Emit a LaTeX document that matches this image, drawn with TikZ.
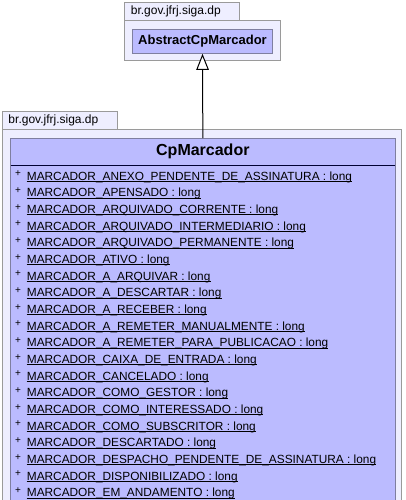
\documentclass[tikz,border=0pt]{standalone}
\usepackage{fontspec}
\setmainfont{Liberation Sans}
\usetikzlibrary{arrows.meta}
\definecolor{pkgfill}{HTML}{EEEEFF}
\definecolor{pkgline}{HTML}{9A9A9A}
\definecolor{clsfill}{HTML}{BBBBFF}
\definecolor{clsline}{HTML}{7F7FA0}
\definecolor{sepline}{HTML}{000033}
\begin{document}
\begin{tikzpicture}[x=1pt, y=-1pt,
  pkg/.style={draw=pkgline, fill=pkgfill, line width=1pt},
  pkglabel/.style={anchor=west, inner sep=0pt, font=\fontsize{12}{14}\selectfont},
  classbox/.style={draw=clsline, fill=clsfill, line width=1pt, inner sep=0pt},
  attr/.style={anchor=base west, inner sep=0pt, font=\fontsize{11.85}{14}\selectfont},
  plus/.style={inner sep=0pt, font=\fontsize{10}{11}\selectfont}]
  \useasboundingbox (0,0) rectangle (405,500);
  \clip (0,0) rectangle (405,500);
  % package of the superclass
  \filldraw[pkg] (124.3,2.3) rectangle (239.3,20.7);
  \filldraw[pkg] (124.3,20.7) rectangle (280.3,61);
  \node[pkglabel] (toplabel) at (130.7,11.5) {br.gov.jfrj.siga.dp};
  \node[classbox, minimum width=140.4pt, minimum height=24pt, font=\bfseries\fontsize{13}{15}\selectfont] (abs) at (202.5,41.3) {AbstractCpMarcador};
  % package of the class
  \filldraw[pkg] (2.3,111.7) rectangle (117.7,129.3);
  \filldraw[pkg] (2.3,129.3) rectangle (401.5,520);
  \node[pkglabel] (botlabel) at (8.3,120.5) {br.gov.jfrj.siga.dp};
  \filldraw[classbox] (10.7,138.3) rectangle (395,520);
  \node[inner sep=0pt, minimum width=384.3pt, minimum height=26.7pt, font=\bfseries\fontsize{16}{18}\selectfont] (cp) at (202.85,151.65) {CpMarcador};
  \draw[sepline, line width=1pt] (cp.south west) -- (cp.south east);
  \foreach \name [count=\i] in {MARCADOR\_ANEXO\_PENDENTE\_DE\_ASSINATURA, MARCADOR\_APENSADO,
      MARCADOR\_ARQUIVADO\_CORRENTE, MARCADOR\_ARQUIVADO\_INTERMEDIARIO, MARCADOR\_ARQUIVADO\_PERMANENTE,
      MARCADOR\_ATIVO, MARCADOR\_A\_ARQUIVAR, MARCADOR\_A\_DESCARTAR, MARCADOR\_A\_RECEBER,
      MARCADOR\_A\_REMETER\_MANUALMENTE, MARCADOR\_A\_REMETER\_PARA\_PUBLICACAO, MARCADOR\_CAIXA\_DE\_ENTRADA,
      MARCADOR\_CANCELADO, MARCADOR\_COMO\_GESTOR, MARCADOR\_COMO\_INTERESSADO, MARCADOR\_COMO\_SUBSCRITOR,
      MARCADOR\_DESCARTADO, MARCADOR\_DESPACHO\_PENDENTE\_DE\_ASSINATURA, MARCADOR\_DISPONIBILIZADO,
      MARCADOR\_EM\_ANDAMENTO} {
    \node[plus] (plus\i) at (18, {174+16.67*(\i-1)}) {+};
    \node[attr] (a\i) at (26.7, {180+16.67*(\i-1)}) {\name\ : long};
    \draw[line width=1pt] ([yshift=-1.6pt]a\i.base west) -- ([yshift=-1.6pt]a\i.base east);
  }
  \draw[line width=1pt, -{Triangle[fill=white, length=16pt, width=12.5pt, line width=1pt]}] (cp.north) -- (abs.south);
\end{tikzpicture}
\end{document}
